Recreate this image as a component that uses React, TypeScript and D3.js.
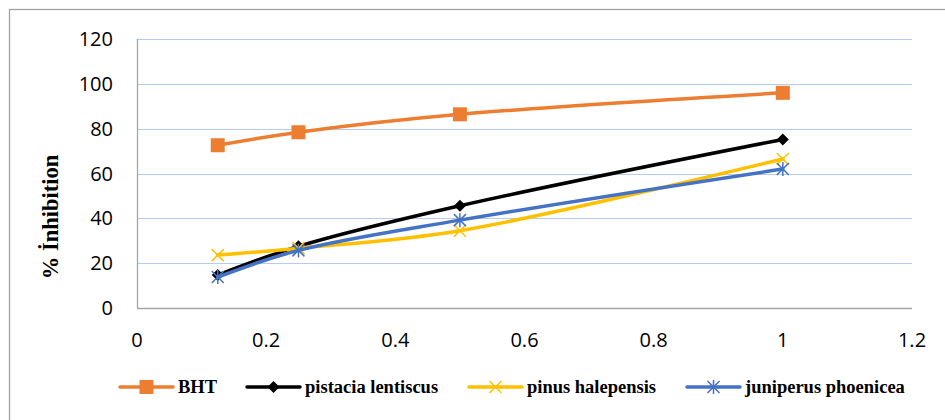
import { useEffect, useRef } from "react";
import * as d3 from "d3";

// ─── Data ─────────────────────────────────────────────────────────────────────

const CONC = [0.125, 0.25, 0.5, 1];
const BHT = [72.6, 78.4, 86.4, 96];
const PISTACIA = [14.7, 27.5, 45.6, 75.2];
const PINUS = [23.6, 26.7, 34.5, 66.5];
const JUNIPERUS = [13.8, 25.7, 39.2, 62];

const X_TICKS = [0, 0.2, 0.4, 0.6, 0.8, 1, 1.2];
const Y_TICKS = [0, 20, 40, 60, 80, 100, 120];

const SERIES = [
  { name: "BHT", values: BHT, color: "#ED7D31", marker: "square" },
  { name: "pistacia lentiscus", values: PISTACIA, color: "#000000", marker: "diamond" },
  { name: "pinus halepensis", values: PINUS, color: "#FFC000", marker: "x" },
  { name: "juniperus phoenicea", values: JUNIPERUS, color: "#4472C4", marker: "star" },
];

const TICK_FONT = "'Open Sans', 'Liberation Sans', sans-serif";
const SERIF = "'Liberation Serif', 'DejaVu Serif', serif";

function drawMarker(
  g: d3.Selection<SVGGElement, unknown, null, undefined>,
  kind: string,
  x: number,
  y: number,
  color: string,
) {
  if (kind === "square") {
    g.append("rect")
      .attr("x", x - 7)
      .attr("y", y - 7)
      .attr("width", 14)
      .attr("height", 14)
      .attr("fill", color);
  } else if (kind === "diamond") {
    g.append("path")
      .attr("d", `M${x},${y - 6}L${x + 6},${y}L${x},${y + 6}L${x - 6},${y}Z`)
      .attr("fill", color);
  } else if (kind === "x") {
    g.append("path")
      .attr("d", `M${x - 6},${y - 6}L${x + 6},${y + 6}M${x - 6},${y + 6}L${x + 6},${y - 6}`)
      .attr("stroke", color)
      .attr("stroke-width", 1.5)
      .attr("fill", "none");
  } else {
    g.append("path")
      .attr(
        "d",
        `M${x - 6},${y - 6}L${x + 6},${y + 6}M${x - 6},${y + 6}L${x + 6},${y - 6}M${x},${y - 7}L${x},${y + 7}`,
      )
      .attr("stroke", color)
      .attr("stroke-width", 1.5)
      .attr("fill", "none");
  }
}

export default function App() {
  const svgRef = useRef<SVGSVGElement>(null);

  useEffect(() => {
    if (!svgRef.current) return;
    const W = 945,
      H = 420;
    const svg = d3.select(svgRef.current);
    svg.selectAll("*").remove();

    svg.append("rect").attr("width", W).attr("height", H).attr("fill", "#fff");

    // outer chart border (runs off right / bottom)
    svg
      .append("rect")
      .attr("x", 9.5)
      .attr("y", 9.5)
      .attr("width", 960)
      .attr("height", 440)
      .attr("fill", "none")
      .attr("stroke", "#A0A0A0")
      .attr("stroke-width", 1.3);

    const x = d3.scaleLinear().domain([0, 1.2]).range([137, 912]);
    const y = d3.scaleLinear().domain([0, 120]).range([308, 39]);

    // gridlines
    svg
      .append("g")
      .selectAll("line")
      .data(Y_TICKS.filter((t) => t > 0))
      .join("line")
      .attr("x1", x(0))
      .attr("x2", x(1.2))
      .attr("y1", (d) => Math.round(y(d)) + 0.5)
      .attr("y2", (d) => Math.round(y(d)) + 0.5)
      .attr("stroke", "#B4CDEE")
      .attr("stroke-width", 1.2);

    // axes lines
    svg
      .append("line")
      .attr("x1", x(0))
      .attr("x2", x(1.2))
      .attr("y1", y(0) + 0.5)
      .attr("y2", y(0) + 0.5)
      .attr("stroke", "#A6A6A6")
      .attr("stroke-width", 1.3);
    svg
      .append("line")
      .attr("x1", x(0) + 0.5)
      .attr("x2", x(0) + 0.5)
      .attr("y1", y(0))
      .attr("y2", y(120))
      .attr("stroke", "#A6A6A6")
      .attr("stroke-width", 1.3);

    // tick labels
    svg
      .append("g")
      .selectAll("text")
      .data(Y_TICKS)
      .join("text")
      .attr("x", 113)
      .attr("y", (d) => y(d) + 7)
      .attr("text-anchor", "end")
      .attr("font-family", TICK_FONT)
      .attr("font-size", 20)
      .attr("fill", "#000")
      .text((d) => d);

    svg
      .append("g")
      .selectAll("text")
      .data(X_TICKS)
      .join("text")
      .attr("x", (d) => x(d))
      .attr("y", 347)
      .attr("text-anchor", "middle")
      .attr("font-family", TICK_FONT)
      .attr("font-size", 20)
      .attr("fill", "#000")
      .text((d) => d3.format("~g")(d));

    // y title
    svg
      .append("text")
      .attr("transform", `translate(58,217) rotate(-90)`)
      .attr("text-anchor", "middle")
      .attr("font-family", SERIF)
      .attr("font-weight", "bold")
      .attr("font-size", 22.5)
      .text("% İnhibition");

    // series
    const line = d3
      .line<number>()
      .x((_, i) => x(CONC[i]))
      .y((d) => y(d))
      .curve(d3.curveCatmullRom.alpha(0.5));

    SERIES.forEach((s) => {
      const g = svg.append("g");
      g.append("path")
        .attr("d", line(s.values))
        .attr("fill", "none")
        .attr("stroke", s.color)
        .attr("stroke-width", 3.5)
        .attr("stroke-linecap", "round");
      s.values.forEach((v, i) => drawMarker(g, s.marker, x(CONC[i]), y(v), s.color));
    });

    // legend
    const LEG_X = [120, 247, 469, 687];
    const legY = 387;
    SERIES.forEach((s, i) => {
      const g = svg.append("g");
      const lx = LEG_X[i];
      g.append("line")
        .attr("x1", lx)
        .attr("x2", lx + 53)
        .attr("y1", legY)
        .attr("y2", legY)
        .attr("stroke", s.color)
        .attr("stroke-width", 3.5)
        .attr("stroke-linecap", "round");
      drawMarker(g, s.marker, lx + 26.5, legY, s.color);
      g.append("text")
        .attr("x", lx + 58)
        .attr("y", legY + 6)
        .attr("font-family", SERIF)
        .attr("font-weight", "bold")
        .attr("font-size", 18.5)
        .attr("fill", "#000")
        .text(s.name);
    });
  }, []);

  return (
    <svg
      ref={svgRef}
      width={945}
      height={420}
      style={{ position: "absolute", left: 0, top: 0, display: "block" }}
    />
  );
}
